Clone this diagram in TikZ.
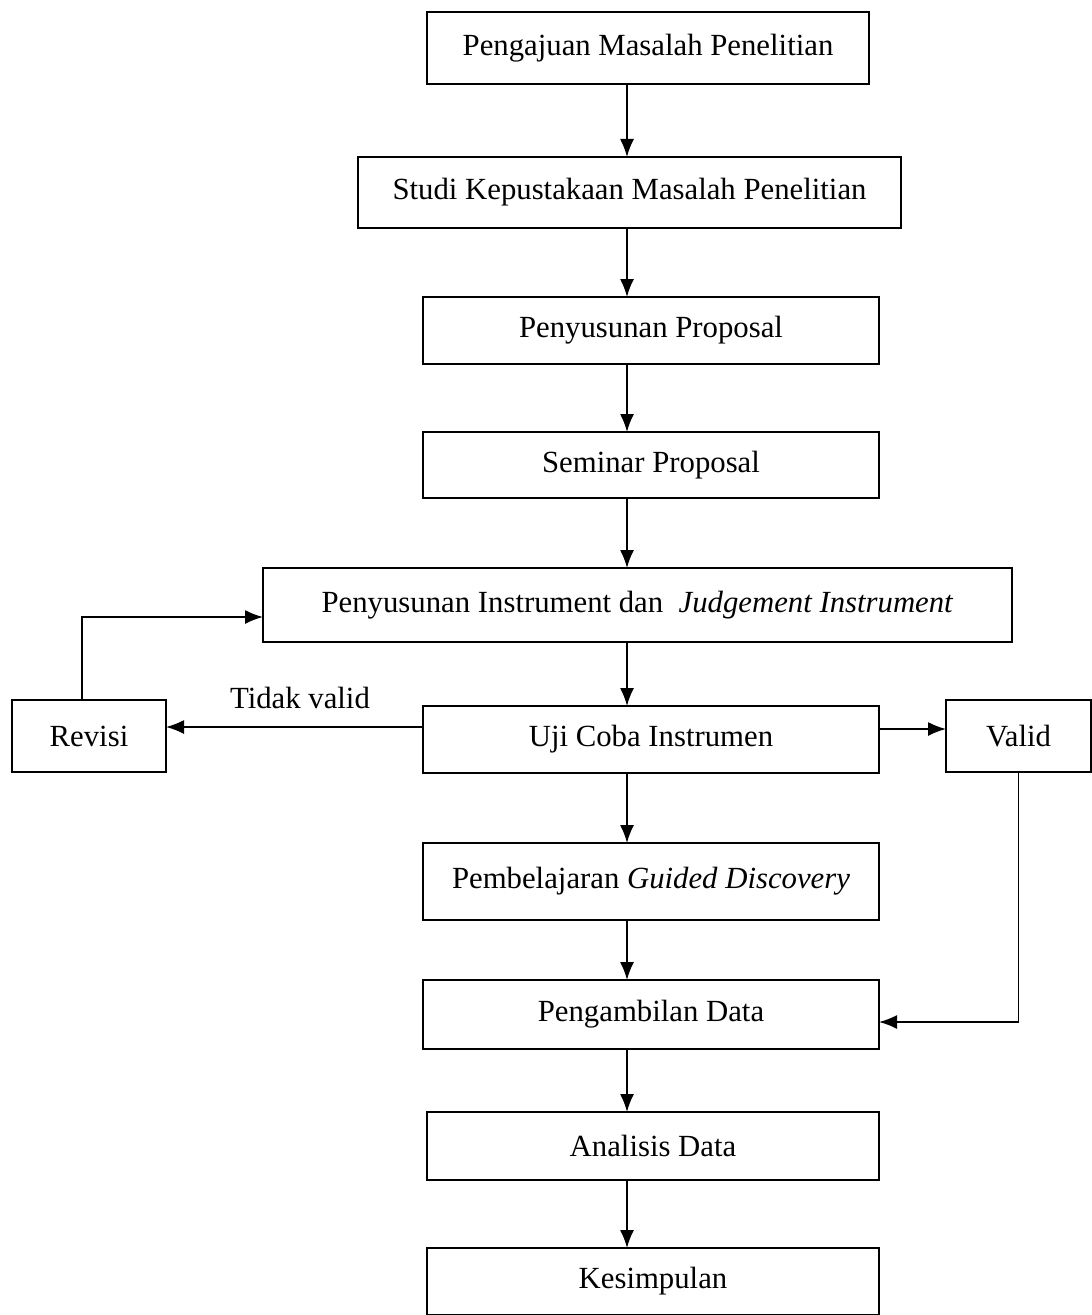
\documentclass[tikz,border=0pt]{standalone}
\usepackage{fontspec}
\setmainfont{Liberation Serif}
\usepackage{tikz}
\usetikzlibrary{arrows.meta,positioning}

\begin{document}
\begin{tikzpicture}[
    font=\fontsize{17.5}{21}\selectfont,
    box/.style={rectangle, draw, line width=1.1pt, inner sep=0pt, outer sep=0pt, align=center},
    arr/.style={line width=0.9pt, -{Latex[length=0.36cm,width=0.28cm]}},
]
\useasboundingbox (0,0) rectangle (21.82,-26.3);

% Main column
\node[box, minimum width=8.84cm, minimum height=1.44cm] (peng) at (12.96,-0.96) {Pengajuan Masalah Penelitian};
\node[box, minimum width=10.86cm, minimum height=1.42cm, below=1.46cm of peng, xshift=-0.37cm] (studi) {Studi Kepustakaan Masalah Penelitian};
\node[box, minimum width=9.12cm, minimum height=1.34cm, below=1.38cm of studi, xshift=0.43cm] (proposal) {Penyusunan Proposal};
\node[box, minimum width=9.12cm, minimum height=1.32cm, below=1.36cm of proposal] (seminar) {Seminar Proposal};
\node[box, minimum width=14.98cm, minimum height=1.48cm, below=1.4cm of seminar, xshift=-0.27cm] (instr) {Penyusunan Instrument dan \ \textit{Judgement Instrument}};
\node[box, minimum width=9.12cm, minimum height=1.34cm, below=1.28cm of instr, xshift=0.27cm] (uji) {Uji Coba Instrumen};
\node[box, minimum width=9.12cm, minimum height=1.54cm, below=1.4cm of uji] (guided) {Pembelajaran \textit{Guided Discovery}};
\node[box, minimum width=9.12cm, minimum height=1.38cm, below=1.2cm of guided] (data) {Pengambilan Data};
\node[box, minimum width=9.04cm, minimum height=1.36cm, below=1.26cm of data, xshift=0.04cm] (analisis) {Analisis Data};
\node[box, minimum width=9.04cm, minimum height=1.34cm, below=1.36cm of analisis] (kesimpulan) {Kesimpulan};

% Side boxes
\node[box, minimum width=2.9cm, minimum height=1.44cm, right=1.34cm of uji, yshift=0.07cm] (valid) {Valid};
\node[box, minimum width=3.08cm, minimum height=1.44cm, left=5.14cm of uji, yshift=0.07cm] (revisi) {Revisi};
\node (tidak) at (6.0,-13.96) {Tidak valid};

% Arrows
\coordinate (ax) at (12.54,0);
\draw[arr] (peng.south -| ax) -- (studi.north -| ax);
\draw[arr] (studi.south -| ax) -- (proposal.north -| ax);
\draw[arr] (proposal.south -| ax) -- (seminar.north -| ax);
\draw[arr] (seminar.south -| ax) -- (instr.north -| ax);
\draw[arr] (instr.south -| ax) -- (uji.north -| ax);
\draw[arr] (uji.south -| ax) -- (guided.north -| ax);
\draw[arr] (guided.south -| ax) -- (data.north -| ax);
\draw[arr] (data.south -| ax) -- (analisis.north -| ax);
\draw[arr] (analisis.south -| ax) -- (kesimpulan.north -| ax);

% Revision loop
\draw[arr] ([yshift=0.25cm]uji.west) -- ([yshift=0.25cm]uji.west -| revisi.east);
\draw[arr] ([xshift=-0.14cm]revisi.north) |- ([yshift=-0.24cm]instr.west);

% Valid path
\draw[arr] ([yshift=0.21cm]uji.east) -- ([yshift=0.21cm]uji.east -| valid.west);
\draw[arr] (valid.south) |- ([yshift=-0.15cm]data.east);

\end{tikzpicture}
\end{document}
